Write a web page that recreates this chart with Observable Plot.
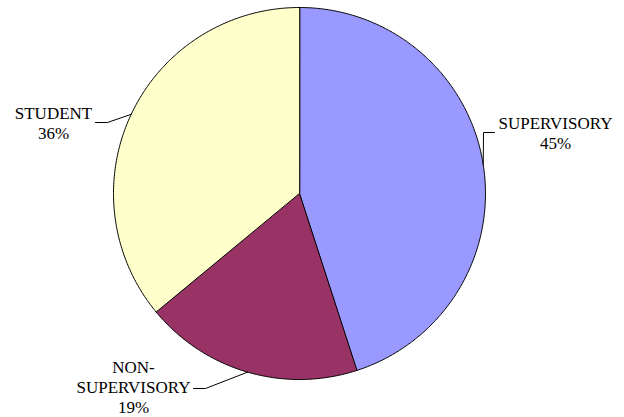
<!DOCTYPE html>
<html>
<head>
<meta charset="utf-8">
<script src="https://cdn.jsdelivr.net/npm/d3@7"></script>
<script src="https://cdn.jsdelivr.net/npm/@observablehq/plot@0.6"></script>
<style>
  html, body { margin: 0; padding: 0; background: #fff; }
  #chart svg { display: block; }
  #chart svg text { font-family: "Liberation Serif", "Times New Roman", "DejaVu Serif", serif; }
</style>
</head>
<body>
<div id="chart"></div>
<script>
// ---- data ----
const categories = ["SUPERVISORY", "NON-SUPERVISORY", "STUDENT"];
const labelNames = ["SUPERVISORY", "NON-\nSUPERVISORY", "STUDENT"];
const percents = [45, 19, 36];
const colors = ["#9999FF", "#993366", "#FFFFCC"];

// ---- layout (pixel-like data units) ----
const W = 624, H = 417;
const cx = 299, cy = 193, R = 186;
const labelPos = [
  {x: 555, y: 132, elbow: [[494, 132], [483, 132]]},
  {x: 133, y: 386, elbow: [[193, 388], [205, 388]]},
  {x: 53,  y: 122, elbow: [[95, 122], [107, 122]]}
];

const total = d3.sum(percents);
const toXY = (deg, r) => {
  const a = deg * Math.PI / 180;
  return [cx + r * Math.sin(a), cy - r * Math.cos(a)];
};

// slice polygons built from the values
let start = 0;
const slices = categories.map((c, i) => {
  const span = percents[i] / total * 360;
  const a0 = start, a1 = start + span;
  start = a1;
  const pts = [{cat: c, x: cx, y: cy}];
  const n = Math.max(2, Math.ceil(span * 2));
  for (let k = 0; k <= n; k++) {
    const [x, y] = toXY(a0 + (a1 - a0) * k / n, R);
    pts.push({cat: c, x, y});
  }
  return {cat: c, color: colors[i], pts, mid: (a0 + a1) / 2};
});

const leaders = slices.map((s, i) => {
  const [mx, my] = toXY(s.mid, R);
  return labelPos[i].elbow.map(([x, y]) => ({cat: s.cat, x, y})).concat([{cat: s.cat, x: mx, y: my}]);
}).flat();

const labels = categories.map((c, i) => ({
  text: labelNames[i] + "\n" + percents[i] + "%",
  x: labelPos[i].x, y: labelPos[i].y
}));

const chart = Plot.plot({
  width: W, height: H,
  margin: 0,
  style: {fontFamily: "Liberation Serif"},
  x: {domain: [0, W], axis: null},
  y: {domain: [0, H], reverse: true, axis: null},
  marks: [
    ...slices.map(s => Plot.line(s.pts, {
      x: "x", y: "y", curve: "linear-closed",
      fill: s.color, stroke: "#000", strokeWidth: 1, strokeLinejoin: "round"
    })),
    Plot.line(leaders, {x: "x", y: "y", z: "cat", stroke: "#000", strokeWidth: 1}),
    Plot.text(labels, {
      x: "x", y: "y", text: "text",
      fontFamily: "Liberation Serif",
      fontSize: 17, lineHeight: 1.18, fill: "#000",
      textAnchor: "middle", lineAnchor: "middle"
    })
  ]
});
document.getElementById("chart").appendChild(chart);
</script>
</body>
</html>
